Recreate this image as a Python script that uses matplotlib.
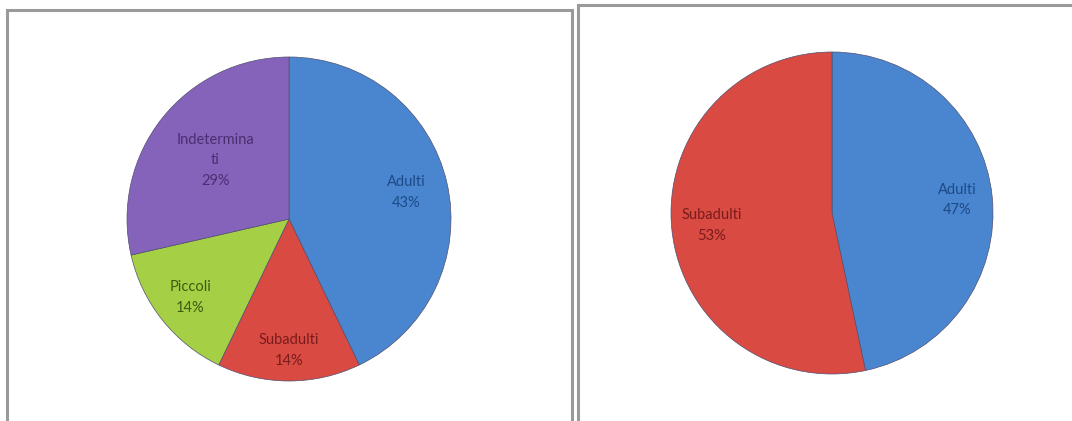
import numpy as np
import matplotlib.pyplot as plt
from matplotlib.patches import Rectangle

plt.rcParams['font.family'] = ['Lato', 'DejaVu Sans']

# left chart
left_labels = ["Adulti", "Subadulti", "Piccoli", "Indetermina\nti"]
left_values = [3, 1, 1, 2]
left_colors = ["#4a86d0", "#d84a42", "#a5cf45", "#8663ba"]
left_text = ["#1d4a86", "#7a1c1c", "#3d5c10", "#4a2e70"]
left_dist = [0.74, 0.81, 0.78, 0.58]

# right chart
right_labels = ["Adulti", "Subadulti"]
right_values = [7, 8]
right_colors = ["#4a86d0", "#d84a42"]
right_text = ["#1d4a86", "#7a1c1c"]
right_dist = [0.78, 0.75]

W, H = 1072, 421
fig = plt.figure(figsize=(W / 100, H / 100), dpi=100)


def box(x, y, w, h):
    # pixel box (top-left origin) -> figure coords
    return [x / W, (H - y - h) / H, w / W, h / H]


# panel frames
for (x, y, w, h) in [(7, 10, 565, 420), (578, 5, 500, 430)]:
    fig.patches.append(Rectangle((x / W, (H - y - h) / H), w / W, h / H,
                                 transform=fig.transFigure, fill=False,
                                 edgecolor="#9a9a9a", linewidth=2.2))


def draw_pie(rect, values, labels, colors, tcolors, dists):
    ax = fig.add_axes(rect)
    wedges, _ = ax.pie(values, colors=colors, startangle=90, counterclock=False,
                       wedgeprops=dict(edgecolor="#505070", linewidth=0.5))
    total = sum(values)
    for w, lab, v, tc, d in zip(wedges, labels, values, tcolors, dists):
        ang = np.deg2rad((w.theta1 + w.theta2) / 2)
        ax.text(d * np.cos(ang), d * np.sin(ang),
                f"{lab}\n{round(100 * v / total)}%", ha="center", va="center",
                fontsize=10.5, color=tc, linespacing=1.6)
    ax.set_xlim(-1, 1)
    ax.set_ylim(-1, 1)
    ax.set_aspect("equal")
    ax.axis("off")


draw_pie(box(127, 57, 324, 324), left_values, left_labels, left_colors, left_text, left_dist)
draw_pie(box(671, 52, 322, 322), right_values, right_labels, right_colors, right_text, right_dist)

plt.savefig("out.png", dpi=100)
